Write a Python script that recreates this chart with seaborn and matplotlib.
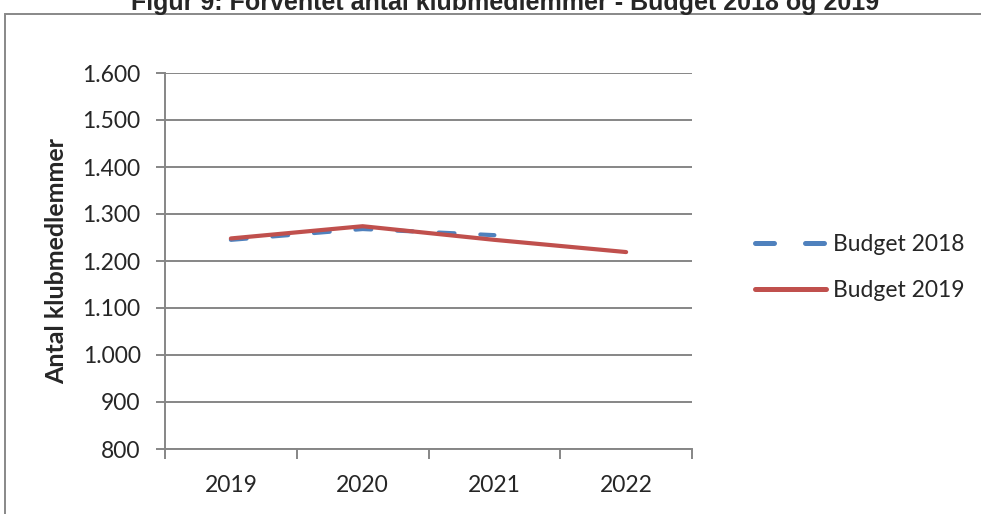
import pandas as pd
import matplotlib.pyplot as plt
import seaborn as sns
from matplotlib.patches import Rectangle
from matplotlib.ticker import FuncFormatter, MultipleLocator

# Data
years = ["2019", "2020", "2021", "2022"]
budget_2018 = [1245, 1268, 1255, None]
budget_2019 = [1248, 1274, 1245, 1219]

df = pd.DataFrame({
    "År": years * 2,
    "Antal": budget_2018 + budget_2019,
    "Serie": ["Budget 2018"] * 4 + ["Budget 2019"] * 4,
})

sns.set_style("white")
plt.rcParams["font.family"] = ["Liberation Sans", "DejaVu Sans"]

fig = plt.figure(figsize=(9.81, 5.14), dpi=100)
ax = fig.add_axes([165 / 981, 1 - 449 / 514, (692 - 165) / 981, (449 - 73) / 514])

# Outer chart border (partly outside the picture, as in the reference)
fig.patches.append(Rectangle((5 / 981, -0.05), 1.1, 1 - 14 / 514 + 0.05, transform=fig.transFigure,
                             fill=False, edgecolor="#888888", linewidth=1.4, zorder=0))

grid_col = "#868686"
palette = {"Budget 2018": "#4F81BD", "Budget 2019": "#C0504D"}
sns.lineplot(data=df, x="År", y="Antal", hue="Serie", style="Serie", palette=palette,
             dashes={"Budget 2018": (3.8, 6.2), "Budget 2019": ""}, linewidth=3.0, ax=ax,
             sort=False)
for line in ax.lines:
    line.set_solid_capstyle("round")
    line.set_dash_capstyle("round")

ax.set_xlim(-0.5, 3.5)
ax.set_ylim(800, 1600)
ax.yaxis.set_major_locator(MultipleLocator(100))
ax.yaxis.set_major_formatter(FuncFormatter(lambda v, p: f"{int(v):,}".replace(",", ".")))
ax.yaxis.grid(True, color=grid_col, linewidth=1.4)
ax.xaxis.grid(False)
for side in ["top", "right"]:
    ax.spines[side].set_visible(False)
for side in ["left", "bottom"]:
    ax.spines[side].set_color(grid_col)
    ax.spines[side].set_linewidth(1.4)

# category ticks between the categories, labels at the centers
ax.set_xticks([-0.5, 0.5, 1.5, 2.5, 3.5], minor=False)
ax.set_xticklabels([])
ax.set_xticks([0, 1, 2, 3], minor=True)
ax.set_xticklabels(years, minor=True)
ax.tick_params(axis="x", which="major", length=7, color=grid_col, width=1.4, direction="out", bottom=True)
ax.tick_params(axis="x", which="minor", length=0, pad=19, labelsize=16.5)
ax.tick_params(axis="y", length=6.5, color=grid_col, width=1.4, direction="out", left=True,
               labelsize=16.5, pad=11)
for lbl in ax.get_xticklabels(minor=True) + ax.get_yticklabels():
    lbl.set_family(["Lato", "DejaVu Sans"])

ax.set_xlabel("")
ax.set_ylabel("Antal klubmedlemmer", fontsize=18, fontweight="bold", labelpad=10,
              family=["Lato", "DejaVu Sans"])

leg = ax.legend(loc="center left", bbox_to_anchor=(1.102, 0.483), borderaxespad=0, frameon=False,
                fontsize=16.5, handlelength=3.1, labelspacing=1.1, handletextpad=0.3)
for t in leg.get_texts():
    t.set_family(["Lato", "DejaVu Sans"])
for h in leg.get_lines():
    h.set_linewidth(3.6)

fig.text(0.515, 1 - 10 / 514, "Figur 9: Forventet antal klubmedlemmer - Budget 2018 og 2019",
         ha="center", va="baseline", fontsize=18, fontweight="bold")

fig.savefig("out.png", dpi=100)
